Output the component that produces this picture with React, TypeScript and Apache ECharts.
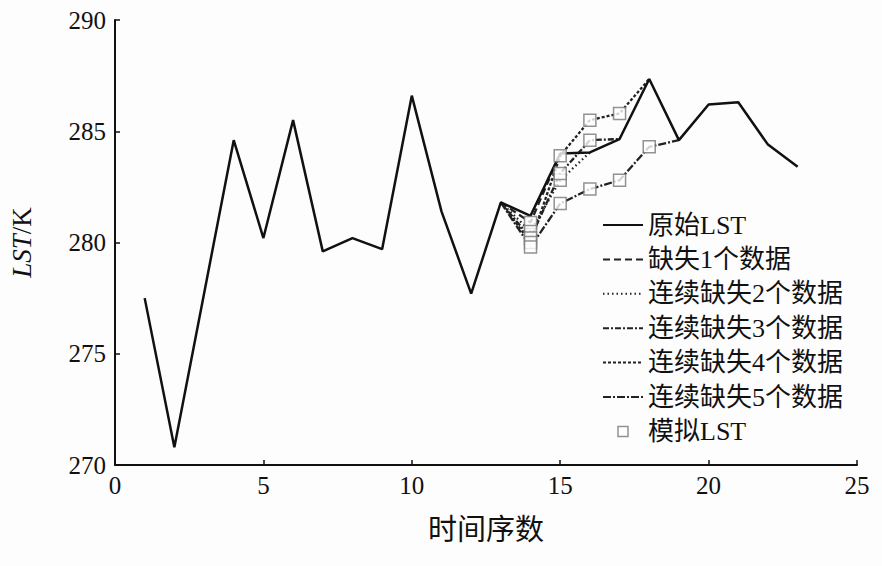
import React, { useEffect, useRef } from "react";
import * as echarts from "echarts";

const timeIndex = [1, 2, 3, 4, 5, 6, 7, 8, 9, 10, 11, 12, 13, 14, 15, 16, 17, 18, 19, 20, 21, 22, 23];
const originalLST = [277.5, 270.8, 277.7, 284.6, 280.2, 285.5, 279.6, 280.2, 279.7, 286.6, 281.4, 277.7, 281.8, 281.2, 284.0, 284.05, 284.65, 287.35, 284.6, 286.2, 286.3, 284.4, 283.4];
const missing1 = [280.9];
const missing2 = [280.5, 282.8];
const missing3 = [280.2, 283.1, 284.6];
const missing4 = [280.0, 283.9, 285.5, 285.8];
const missing5 = [279.8, 281.75, 282.4, 282.8, 284.3];
const gapStart = 14;
const seriesNames = ["原始LST", "缺失1个数据", "连续缺失2个数据", "连续缺失3个数据", "连续缺失4个数据", "连续缺失5个数据", "模拟LST"];
const xTicks = [0, 25, 5];
const yTicks = [270, 290, 5];

const FONT = "Liberation Serif, Times New Roman, Noto Sans CJK SC, serif";

export default function App() {
  const ref = useRef<HTMLDivElement>(null);
  useEffect(() => {
    if (!ref.current) return;
    const chart = echarts.init(ref.current, undefined, { renderer: "svg" });
    const orig = timeIndex.map((x, i) => [x, originalLST[i]]);
    const sims = [missing1, missing2, missing3, missing4, missing5];
    const dashes = [[7, 4], [1.5, 3], [6, 2, 2, 2], [3, 2], [8, 2, 2, 2]];
    const simSeries = sims.map((vals, k) => {
      const idxPrev = timeIndex.indexOf(gapStart - 1);
      const data: number[][] = [[timeIndex[idxPrev], originalLST[idxPrev]]];
      vals.forEach((v, i) => data.push([gapStart + i, v]));
      const nextX = gapStart + vals.length;
      const ni = timeIndex.indexOf(nextX);
      data.push([nextX, originalLST[ni]]);
      return {
        name: seriesNames[k + 1],
        type: "line",
        data,
        symbol: "none",
        z: 3,
        lineStyle: { color: "#222", width: 2.3, type: dashes[k] },
        itemStyle: { color: "#222" },
      };
    });
    const scatterData: number[][] = [];
    sims.forEach((vals) => vals.forEach((v, i) => scatterData.push([gapStart + i, v])));

    const hidden = { color: "rgba(0,0,0,0)", borderWidth: 0, opacity: 0 };

    chart.setOption({
      animation: false,
      backgroundColor: "#fdfdfd",
      grid: { left: 114, right: 25, top: 20, bottom: 101 },
      legend: {
        orient: "vertical",
        left: 597,
        top: 207,
        itemWidth: 40,
        itemHeight: 10,
        itemGap: 8.4,
        textStyle: { fontSize: 26, lineHeight: 26, fontFamily: FONT, color: "#111" },
        data: [
          { name: seriesNames[0], itemStyle: hidden },
          { name: seriesNames[1], itemStyle: hidden },
          { name: seriesNames[2], itemStyle: hidden },
          { name: seriesNames[3], itemStyle: hidden },
          { name: seriesNames[4], itemStyle: hidden },
          { name: seriesNames[5], itemStyle: hidden },
          { name: seriesNames[6], icon: "path://M0,0 L10,0 L10,10 L0,10 Z", itemStyle: { color: "#fff", borderColor: "#777", borderWidth: 1.5 } },
        ],
      },
      xAxis: {
        type: "value",
        min: xTicks[0],
        max: xTicks[1],
        interval: xTicks[2],
        name: "时间序数",
        nameLocation: "middle",
        nameGap: 50,
        nameTextStyle: { fontSize: 29, fontFamily: FONT, color: "#111" },
        axisLine: { lineStyle: { color: "#111", width: 2 } },
        axisTick: { inside: true, length: 5, lineStyle: { color: "#111", width: 1.5 } },
        axisLabel: { fontSize: 25, fontFamily: FONT, color: "#111", margin: 8 },
        splitLine: { show: false },
      },
      yAxis: {
        type: "value",
        min: yTicks[0],
        max: yTicks[1],
        interval: yTicks[2],
        name: "{i|LST}{n|/K}",
        nameLocation: "middle",
        nameGap: 80,
        nameTextStyle: {
          rich: {
            i: { fontSize: 27, fontFamily: FONT, fontStyle: "italic", color: "#111" },
            n: { fontSize: 27, fontFamily: FONT, color: "#111" },
          },
        },
        axisLine: { show: true, lineStyle: { color: "#111", width: 2 } },
        axisTick: { show: true, inside: true, length: 5, lineStyle: { color: "#111", width: 1.5 } },
        axisLabel: { fontSize: 25, fontFamily: FONT, color: "#111", margin: 9 },
        splitLine: { show: false },
      },
      series: [
        {
          name: seriesNames[0],
          type: "line",
          data: orig,
          symbol: "none",
          z: 4,
          lineStyle: { color: "#111", width: 2.5, type: "solid" },
          itemStyle: { color: "#111" },
        },
        ...simSeries,
        {
          name: seriesNames[6],
          type: "scatter",
          data: scatterData,
          symbol: "rect",
          symbolSize: 12,
          symbolKeepAspect: true,
          z: 5,
          itemStyle: { color: "#fff", borderColor: "#777", borderWidth: 1.5 },
        },
      ],
    });
    return () => chart.dispose();
  }, []);
  return <div ref={ref} style={{ position: "fixed", left: 0, top: 0, width: 882, height: 566 }} />;
}
